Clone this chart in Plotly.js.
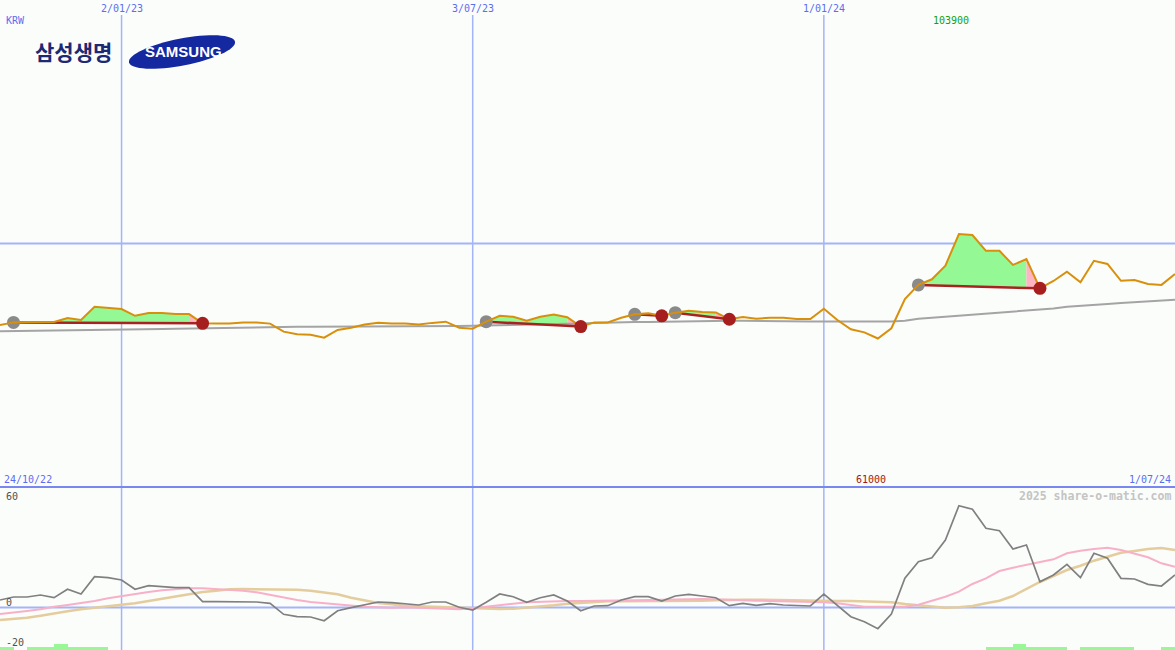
<!DOCTYPE html>
<html>
<head>
<meta charset="utf-8">
<script src="https://cdn.plot.ly/plotly-3.0.1.min.js"></script>
<style>
html,body{margin:0;padding:0;background:#fbfdfb;}
#chart{width:1175px;height:650px;}
</style>
</head>
<body>
<div id="chart"></div>
<script>
// ---------------- DATA ----------------
var startDate = '2022-10-31';   // first weekly point (Monday)
var weekCount = 88;             // weekly points up to 2024-07-01

// weekly close, KRW
var price = [66500,67600,67800,67900,67800,69400,68600,74000,73600,73100,
             70300,71500,71500,71000,71000,67200,67100,67100,67600,67600,
             67100,63800,62700,62500,61300,64500,65400,66700,67500,67100,
             67100,66700,67400,67900,65400,65000,67900,70300,69900,68300,
             69900,70800,69700,65900,67600,67600,69500,70900,71300,70300,
             71600,72400,71900,71700,68900,69800,69100,69500,69500,69000,
             69000,73200,68600,64800,63500,61000,65200,77200,83000,85300,
             90900,103900,103500,97000,97000,91200,93600,81600,84600,88400,
             84100,92900,91600,84700,85000,83400,83000,87500];

// long moving average, KRW
var movingAvg = [64000,64050,64100,64150,64200,64250,64300,64400,64500,64550,
                 64600,64750,64850,64950,65050,65250,65400,65500,65600,65700,
                 65750,65800,65800,65800,65800,65850,65850,65850,65900,65900,
                 65900,65950,66000,66050,66100,66200,66300,66350,66400,66450,
                 66500,66600,66800,67100,67400,67600,67650,67750,67800,67900,
                 68100,68250,68300,68300,68300,68300,68300,68300,68250,68200,
                 68000,67950,67900,67900,67900,67950,68000,68300,69100,69500,
                 69900,70200,70600,71000,71500,71900,72500,72900,73300,74000,
                 74500,74750,75200,75600,76000,76400,76600,76900];

// oscillator (% above moving average)
var oscillator = [3.75,5.25,5.25,6.25,4.9,9.1,6.75,15.4,14.9,13.75,
                  9.1,10.9,10.4,9.9,9.9,2.9,2.9,2.9,2.9,2.75,
                  2.1,-3.4,-4.6,-4.75,-6.6,-1.6,-0.1,1.25,2.75,2.4,
                  1.75,1.25,2.75,2.75,0.1,-1.25,2.6,6.75,5.4,2.6,
                  4.9,6.25,3.25,-1.6,0.75,0.9,3.75,5.4,5.4,3.25,
                  5.75,6.6,5.75,4.9,0.9,2.1,1.1,1.9,1.25,0.9,
                  0.75,6.75,1.25,-4.6,-7.1,-10.6,-3.25,14.6,22.9,24.9,
                  33.75,50.9,49.1,39.6,38.4,29.25,31.25,12.9,16.25,21.6,
                  14.9,27.1,24.6,14.6,14.25,11.6,10.75,16.25];

// short average of oscillator (pink)
var oscShort = [-3.25,-2.6,-1.75,-0.9,0.4,1.25,2.1,3.25,4.6,5.75,
                6.75,7.75,8.6,9.25,9.6,9.6,9.25,8.75,8.4,7.6,
                6.25,5.1,3.75,2.75,2.1,1.4,0.9,0.4,0.1,-0.1,
                0.1,-0.1,-0.25,-0.75,-0.9,-0.4,0.25,1.25,1.9,2.6,
                2.9,3.25,3.25,3.25,3.25,3.25,3.4,3.6,3.75,3.9,
                4.1,4.25,4.25,4.1,3.75,3.75,3.4,3.25,3.1,3.1,
                3.1,2.6,2.1,1.25,0.4,0.4,0.4,0.4,1.4,3.4,
                5.4,7.9,11.75,14.6,18.25,19.9,21.25,22.9,24.1,27.1,
                28.4,29.25,29.9,28.75,27.1,25.1,22.1,20.4];

// long average of oscillator (tan)
var oscLong = [-6.25,-5.75,-5.1,-4.1,-2.9,-1.9,-0.9,-0.25,0.4,1.4,
               2.1,3.25,4.25,5.4,6.6,7.75,8.4,9.1,9.25,9.25,
               9.1,9.1,8.9,8.4,7.4,6.6,4.9,3.4,2.25,1.6,
               0.75,0.6,0.4,0.1,-0.25,-0.4,-0.6,-0.75,-0.6,-0.1,
               0.4,1.1,1.9,2.4,2.75,3.1,3.1,3.1,3.25,3.25,
               3.25,3.4,3.4,3.6,3.9,3.9,3.9,3.75,3.75,3.75,
               3.4,3.25,3.25,3.25,3.1,2.9,2.6,1.75,1.1,0.4,
               -0.1,0.1,0.75,2.1,3.4,5.75,9.4,12.75,15.75,18.75,
               20.9,23.4,25.4,27.4,28.25,29.25,29.75,28.75];

// signals (week indices)
var buyWeeks  = [1, 36, 47, 50, 68];
var sellWeeks = [15, 43, 49, 54, 77];

// bottom indicator bars (week index, level)
var barWeeks  = [0,2,3,4,5,6,7,73,74,75,76,77,78,80,81,82,83,86];
var barLevels = [1.5,1.5,1.5,3,1.5,1.5,1.5,1.5,1.5,3,1.5,1.5,1.5,1.5,1.5,1.5,1.5,1.5];

// labels
var topDateLabels = [['2023-01-02','2/01/23'],['2023-07-03','3/07/23'],['2024-01-01','1/01/24']];
var startLabel = '24/10/22';
var endLabel = '1/07/24';
var endDate = '2024-07-01';
var currencyLabel = 'KRW';
var maxLabel = '103900';
var minLabel = '61000';
var refLevel = 100000;
var oscTicks = [['60',60],['0',0],['-20',-20]];
var credit = '2025 share-o-matic.com';
var companyKo = '삼성생명';
var brand = 'SAMSUNG';

// ---------------- BUILD ----------------
var W = 1175, H = 650;
function px(x){return x/W;}
function py(y){return 1 - y/H;}

var dates = [];
(function(){
  var d0 = new Date(startDate + 'T00:00:00Z');
  for (var i=0;i<weekCount;i++){
    var d = new Date(d0.getTime() + i*7*86400000);
    dates.push(d.toISOString().slice(0,10));
  }
})();

var traces = [];
var mainSplit = 163/650;

// fills
for (var k=0;k<buyWeeks.length;k++){
  var b = buyWeeks[k], s = sellWeeks[k];
  var redAt = function(i){return price[b] + (price[s]-price[b])*(i-b)/(s-b);};
  var gx=[], gy=[];
  for (var i=b;i<=s-1;i++){gx.push(dates[i]); gy.push(price[i]);}
  gx.push(dates[s-1]); gy.push(redAt(s-1));
  gx.push(dates[b]); gy.push(price[b]);
  traces.push({x:gx,y:gy,type:'scatter',mode:'lines',fill:'toself',fillcolor:'#94f894',
    line:{width:0,color:'rgba(0,0,0,0)'},hoverinfo:'skip',showlegend:false,xaxis:'x',yaxis:'y'});
  traces.push({x:[dates[s-1],dates[s],dates[s-1]],y:[price[s-1],price[s],redAt(s-1)],
    type:'scatter',mode:'lines',fill:'toself',fillcolor:'#ffb4c4',
    line:{width:0,color:'rgba(0,0,0,0)'},hoverinfo:'skip',showlegend:false,xaxis:'x',yaxis:'y'});
}

// moving average
traces.push({x:dates,y:movingAvg,type:'scatter',mode:'lines',line:{color:'#a4a4a4',width:2},
  hoverinfo:'skip',showlegend:false,xaxis:'x',yaxis:'y'});

// red signal lines
for (var k2=0;k2<buyWeeks.length;k2++){
  var b2 = buyWeeks[k2], s2 = sellWeeks[k2];
  traces.push({x:[dates[b2],dates[s2]],y:[price[b2],price[s2]],type:'scatter',mode:'lines',
    line:{color:'#a82222',width:2.5},hoverinfo:'skip',showlegend:false,xaxis:'x',yaxis:'y'});
}

// buy markers (below price line)
traces.push({x:buyWeeks.map(function(i){return dates[i];}),y:buyWeeks.map(function(i){return price[i];}),
  type:'scatter',mode:'markers',marker:{color:'#8a8a8a',size:13,line:{width:0}},
  hoverinfo:'skip',showlegend:false,xaxis:'x',yaxis:'y'});

// price line
traces.push({x:dates,y:price,type:'scatter',mode:'lines',line:{color:'#d8900c',width:2},
  hoverinfo:'skip',showlegend:false,xaxis:'x',yaxis:'y'});

// sell markers
traces.push({x:sellWeeks.map(function(i){return dates[i];}),y:sellWeeks.map(function(i){return price[i];}),
  type:'scatter',mode:'markers',marker:{color:'#a61e1e',size:13,line:{width:0}},
  hoverinfo:'skip',showlegend:false,xaxis:'x',yaxis:'y'});

// lower panel
traces.push({x:barWeeks.map(function(i){return new Date(new Date(dates[i]+'T00:00:00Z').getTime()+3.5*86400000).toISOString();}),
  y:barLevels,base:-21.25,width:7*86400000,type:'bar',marker:{color:'#98f898',line:{width:0}},
  hoverinfo:'skip',showlegend:false,xaxis:'x',yaxis:'y2'});
traces.push({x:dates,y:oscLong,type:'scatter',mode:'lines',line:{color:'#e4cc9c',width:2.5},
  hoverinfo:'skip',showlegend:false,xaxis:'x',yaxis:'y2'});
traces.push({x:dates,y:oscShort,type:'scatter',mode:'lines',line:{color:'#f8b0c8',width:2},
  hoverinfo:'skip',showlegend:false,xaxis:'x',yaxis:'y2'});
traces.push({x:dates,y:oscillator,type:'scatter',mode:'lines',line:{color:'#808080',width:1.7},
  hoverinfo:'skip',showlegend:false,xaxis:'x',yaxis:'y2'});

// shapes
var shapes = [];
topDateLabels.forEach(function(t){
  shapes.push({type:'line',xref:'x',yref:'paper',x0:t[0],x1:t[0],y0:0,y1:py(15),layer:'below',
    line:{color:'#a4b4f8',width:1.5}});
});
shapes.push({type:'line',xref:'paper',yref:'y',x0:0,x1:1,y0:refLevel,y1:refLevel,layer:'below',
  line:{color:'#a4b4f8',width:2}});
shapes.push({type:'line',xref:'paper',yref:'paper',x0:0,x1:1,y0:mainSplit,y1:mainSplit,layer:'above',
  line:{color:'#7888f0',width:2}});
shapes.push({type:'line',xref:'paper',yref:'y2',x0:0,x1:1,y0:0,y1:0,layer:'below',
  line:{color:'#a4b4f8',width:2}});

// Samsung ellipse
(function(){
  var cx=182, cy=52, rx=54, ry=13.5, th=11*Math.PI/180, p='';
  for (var i=0;i<=64;i++){
    var t=i/64*2*Math.PI;
    var x=cx + rx*Math.cos(t)*Math.cos(th) + ry*Math.sin(t)*Math.sin(th);
    var y=cy - rx*Math.cos(t)*Math.sin(th) + ry*Math.sin(t)*Math.cos(th);
    p += (i===0?'M':'L') + px(x).toFixed(5) + ',' + py(y).toFixed(5);
  }
  p += 'Z';
  shapes.push({type:'path',xref:'paper',yref:'paper',path:p,fillcolor:'#1428a0',line:{width:0},layer:'above'});
})();

// annotations
var mono = 'DejaVu Sans Mono';
var blue = '#5c6ef0';
var ann = [];
topDateLabels.forEach(function(t){
  ann.push({xref:'x',yref:'paper',x:t[0],y:py(9),text:t[1],showarrow:false,xanchor:'center',yanchor:'middle',
    font:{family:mono,size:10,color:blue}});
});
ann.push({xref:'paper',yref:'paper',x:px(4),y:py(21),text:currencyLabel,showarrow:false,xanchor:'left',yanchor:'middle',
  font:{family:mono,size:10,color:blue}});
ann.push({xref:'paper',yref:'paper',x:px(2),y:py(479),text:startLabel,showarrow:false,xanchor:'left',yanchor:'middle',
  font:{family:mono,size:10,color:blue}});
ann.push({xref:'paper',yref:'paper',x:px(1173),y:py(479),text:endLabel,showarrow:false,xanchor:'right',yanchor:'middle',
  font:{family:mono,size:10,color:blue}});
ann.push({xref:'paper',yref:'paper',x:px(951),y:py(21),text:maxLabel,showarrow:false,xanchor:'center',yanchor:'middle',
  font:{family:mono,size:10,color:'#12a012'}});
ann.push({xref:'paper',yref:'paper',x:px(871),y:py(479),text:minLabel,showarrow:false,xanchor:'center',yanchor:'middle',
  font:{family:mono,size:10,color:'#a01818'}});
ann.push({xref:'paper',yref:'paper',x:px(1173),y:py(496),text:'<b>'+credit+'</b>',showarrow:false,xanchor:'right',yanchor:'middle',
  font:{family:mono,size:11.5,color:'#c4c4c4'}});
oscTicks.forEach(function(t){
  var yy = t[1]===60 ? py(496) : (t[1]===0 ? py(602) : py(642));
  ann.push({xref:'paper',yref:'paper',x:px(4),y:yy,text:t[0],showarrow:false,xanchor:'left',yanchor:'middle',
    font:{family:mono,size:10,color:'#505050'}});
});
ann.push({xref:'paper',yref:'paper',x:px(73.5),y:py(50.5),text:'<b>'+companyKo+'</b>',showarrow:false,xanchor:'center',yanchor:'middle',
  font:{family:'Noto Sans CJK KR',size:21,color:'#1c2a74'}});
ann.push({xref:'paper',yref:'paper',x:px(183),y:py(51.5),text:'<b>'+brand+'</b>',showarrow:false,xanchor:'center',yanchor:'middle',
  font:{family:'Liberation Sans',size:15,color:'#ffffff'}});

var layout = {
  width:W, height:H,
  margin:{l:0,r:0,t:0,b:0,pad:0},
  paper_bgcolor:'#fbfdfb', plot_bgcolor:'#fbfdfb',
  showlegend:false,
  xaxis:{type:'date',range:[startDate,endDate],visible:false,fixedrange:true,anchor:'y2'},
  yaxis:{domain:[mainSplit,1],range:[0,200000],visible:false,fixedrange:true},
  yaxis2:{domain:[0,mainSplit],range:[-21.25,60.25],visible:false,fixedrange:true},
  shapes:shapes,
  annotations:ann,
  bargap:0
};

Plotly.newPlot('chart', traces, layout, {staticPlot:true, displayModeBar:false});
</script>
</body>
</html>
